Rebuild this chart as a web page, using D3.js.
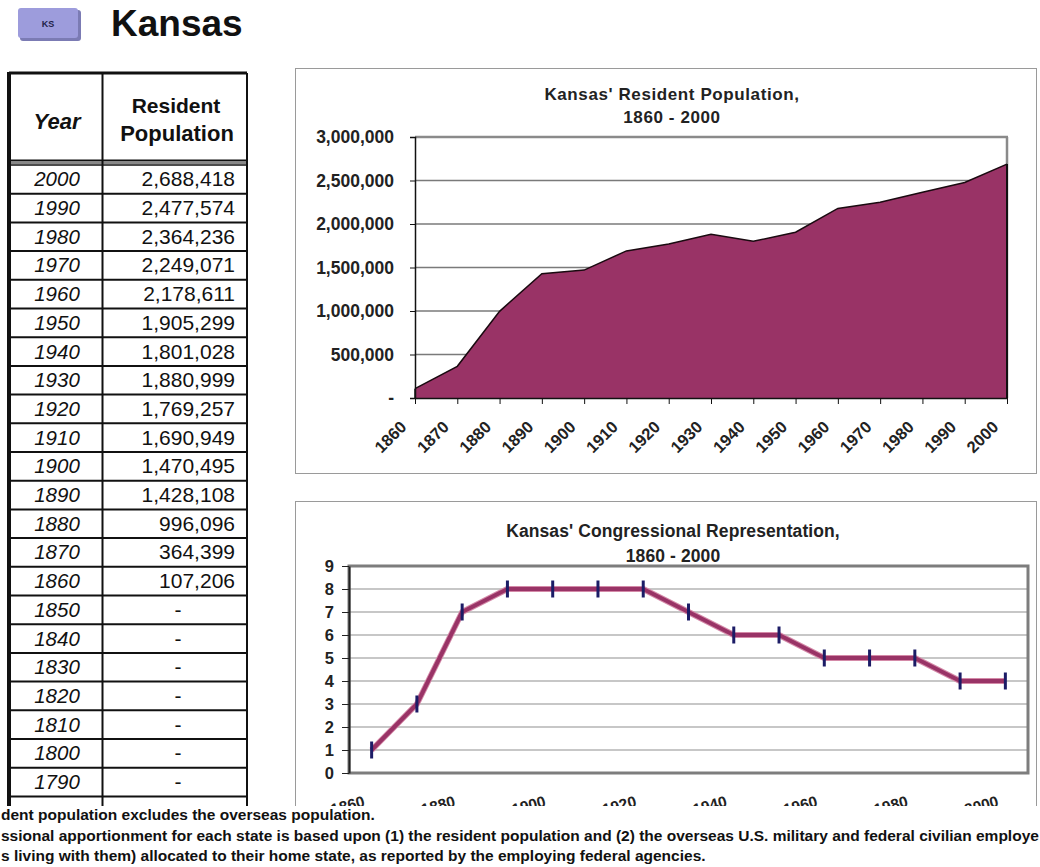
<!DOCTYPE html>
<html><head><meta charset="utf-8">
<script src="https://cdn.jsdelivr.net/npm/d3@7"></script>
<style>
body{margin:0;background:#fff}
svg{display:block;font-family:"Liberation Sans",Arial,sans-serif}
</style>
</head><body>
<svg id="c" width="1040" height="867"></svg>
<script>
// ---------- data ----------
const stateCode = "KS";
const stateName = "Kansas";
const tableYears = [2000,1990,1980,1970,1960,1950,1940,1930,1920,1910,1900,1890,1880,1870,1860,1850,1840,1830,1820,1810,1800,1790];
const tablePopulation = ["2,688,418","2,477,574","2,364,236","2,249,071","2,178,611","1,905,299","1,801,028","1,880,999","1,769,257","1,690,949","1,470,495","1,428,108","996,096","364,399","107,206","-","-","-","-","-","-","-"];
const chartYears = [1860,1870,1880,1890,1900,1910,1920,1930,1940,1950,1960,1970,1980,1990,2000];
const popValues = [107206,364399,996096,1428108,1470495,1690949,1769257,1880999,1801028,1905299,2178611,2249071,2364236,2477574,2688418];
const popTicks = [0,500000,1000000,1500000,2000000,2500000,3000000];
const popTickLabels = ["-","500,000","1,000,000","1,500,000","2,000,000","2,500,000","3,000,000"];
const seatValues = [1,3,7,8,8,8,8,7,6,6,5,5,5,4,4];
const seatTicks = [0,1,2,3,4,5,6,7,8,9];
const seatLabelYears = [1860,1880,1900,1920,1940,1960,1980,2000];
const popTitle = ["Kansas' Resident Population,","1860 - 2000"];
const seatTitle = ["Kansas' Congressional Representation,","1860 - 2000"];
const footnotes = [
  "dent population excludes the overseas population.",
  "ssional apportionment for each state is based upon (1) the resident population and (2) the overseas U.S. military and federal civilian employe",
  "s living with them) allocated to their home state, as reported by the employing federal agencies."
];

const svg = d3.select("#c");
svg.append("rect").attr("width",1040).attr("height",867).attr("fill","#fff");

// ---------- header ----------
svg.append("rect").attr("x",20).attr("y",10).attr("width",61).attr("height",31).attr("rx",3).attr("fill","#7b7bb4");
svg.append("rect").attr("x",18).attr("y",8).attr("width",60).attr("height",30).attr("rx",3).attr("fill","#9d9cdc");
svg.append("text").attr("x",48).attr("y",27).attr("text-anchor","middle").attr("font-size",9).attr("font-weight","bold").attr("fill","#22224a").text(stateCode);
svg.append("text").attr("x",111).attr("y",36).attr("font-size",37).attr("font-weight","bold").attr("fill","#111").text(stateName);

// ---------- table ----------
const T = {left:9, mid:102.5, right:247, top:73, headBottom:165};
const rowY = d3.scaleBand().domain(tableYears).range([T.headBottom, T.headBottom + 28.7*tableYears.length]);
const tbl = svg.append("g");
tbl.selectAll("line.row").data(tableYears).join("line")
  .attr("x1",T.left).attr("x2",T.right)
  .attr("y1",d=>rowY(d)+rowY.bandwidth()).attr("y2",d=>rowY(d)+rowY.bandwidth())
  .attr("stroke","#111").attr("stroke-width",2);
tbl.append("line").attr("x1",T.left).attr("x2",T.right).attr("y1",T.top).attr("y2",T.top).attr("stroke","#111").attr("stroke-width",3);
tbl.append("line").attr("x1",T.left).attr("x2",T.right).attr("y1",160.5).attr("y2",160.5).attr("stroke","#111").attr("stroke-width",2);
tbl.append("line").attr("x1",T.left).attr("x2",T.right).attr("y1",163).attr("y2",163).attr("stroke","#888").attr("stroke-width",2);
tbl.append("line").attr("x1",T.left).attr("x2",T.right).attr("y1",165).attr("y2",165).attr("stroke","#111").attr("stroke-width",1.5);
tbl.append("line").attr("x1",T.left).attr("x2",T.left).attr("y1",T.top-1).attr("y2",810).attr("stroke","#111").attr("stroke-width",4);
tbl.append("line").attr("x1",T.mid).attr("x2",T.mid).attr("y1",T.top).attr("y2",810).attr("stroke","#111").attr("stroke-width",2);
tbl.append("line").attr("x1",T.right).attr("x2",T.right).attr("y1",T.top).attr("y2",810).attr("stroke","#111").attr("stroke-width",2);
tbl.append("text").attr("x",57).attr("y",129).attr("text-anchor","middle").attr("font-size",22).attr("font-weight","bold").attr("font-style","italic").attr("fill","#111").text("Year");
tbl.append("text").attr("x",176).attr("y",113).attr("text-anchor","middle").attr("font-size",21).attr("font-weight","bold").attr("fill","#111").text("Resident");
tbl.append("text").attr("x",177).attr("y",141).attr("text-anchor","middle").attr("font-size",22).attr("font-weight","bold").attr("fill","#111").text("Population");
tbl.selectAll("text.yr").data(tableYears).join("text").attr("class","yr")
  .attr("x",57).attr("y",d=>rowY(d)+rowY.bandwidth()/2+7)
  .attr("text-anchor","middle").attr("font-size",20.5).attr("font-style","italic").attr("fill","#111").text(d=>d);
tbl.selectAll("text.pop").data(tablePopulation).join("text").attr("class","pop")
  .attr("x",d=>d==="-"?178:235).attr("y",(d,i)=>rowY(tableYears[i])+rowY.bandwidth()/2+7)
  .attr("text-anchor",d=>d==="-"?"middle":"end").attr("font-size",21).attr("fill","#111").text(d=>d);

// ---------- population area chart ----------
const g1 = svg.append("g");
g1.append("rect").attr("x",295.5).attr("y",68.5).attr("width",741).attr("height",405).attr("fill","#fff").attr("stroke","#9a9a9a");
g1.selectAll("text.t").data(popTitle).join("text").attr("class","t")
  .attr("x",672).attr("y",(d,i)=>100+i*23).attr("text-anchor","middle")
  .attr("font-size",17).attr("font-weight","bold").attr("letter-spacing",0.6).attr("fill","#222").text(d=>d);
const x1 = d3.scalePoint().domain(chartYears).range([415,1007]);
const y1 = d3.scaleLinear().domain([0,3000000]).range([398,137]);
g1.selectAll("line.grid").data(popTicks.slice(1,-1)).join("line")
  .attr("x1",415).attr("x2",1007).attr("y1",d=>y1(d)).attr("y2",d=>y1(d)).attr("stroke","#7a7a7a").attr("stroke-width",1.3);
g1.append("line").attr("x1",415).attr("x2",1008).attr("y1",y1(3000000)).attr("y2",y1(3000000)).attr("stroke","#8a8a8a").attr("stroke-width",2.5);
g1.append("line").attr("x1",1007).attr("x2",1007).attr("y1",y1(3000000)).attr("y2",398).attr("stroke","#8a8a8a").attr("stroke-width",2.5);
const area = d3.area().x((d,i)=>x1(chartYears[i])).y0(y1(0)).y1(d=>y1(d));
g1.append("path").datum(popValues).attr("d",area).attr("fill","#993366");
const topLine = d3.line().x((d,i)=>x1(chartYears[i])).y(d=>y1(d));
g1.append("path").datum(popValues).attr("d",topLine).attr("fill","none").attr("stroke","#1a0a10").attr("stroke-width",1.5);
g1.append("line").attr("x1",1007).attr("x2",1007).attr("y1",y1(popValues[popValues.length-1])).attr("y2",398).attr("stroke","#111").attr("stroke-width",2);
g1.append("line").attr("x1",415).attr("x2",415).attr("y1",y1(popValues[0])).attr("y2",398).attr("stroke","#111").attr("stroke-width",1.5);
const ax1 = d3.axisLeft(y1).tickValues(popTicks).tickFormat((d,i)=>popTickLabels[i]).tickSize(5).tickPadding(16);
const gy1 = g1.append("g").attr("transform","translate(415,0)").call(ax1);
gy1.select(".domain").attr("stroke","#111").attr("stroke-width",1.5);
gy1.selectAll(".tick line").attr("stroke","#111");
gy1.selectAll(".tick text").attr("font-size",17.5).attr("font-weight","bold").attr("fill","#222").attr("font-family","Liberation Sans, Arial, sans-serif");
const ax1b = d3.axisBottom(x1).tickSize(6).tickSizeOuter(0);
const gx1 = g1.append("g").attr("transform","translate(0,398)").call(ax1b);
gx1.select(".domain").attr("stroke","#111").attr("stroke-width",1.5);
gx1.selectAll(".tick line").attr("stroke","#111");
gx1.selectAll(".tick text").attr("font-size",16.5).attr("font-weight","bold").attr("fill","#222")
  .attr("font-family","Liberation Sans, Arial, sans-serif")
  .attr("text-anchor","end").attr("transform","translate(-12,26) rotate(-45)").attr("dy","0.35em").attr("y",0);

// ---------- congressional representation chart ----------
const g2 = svg.append("g");
g2.append("rect").attr("x",295.5).attr("y",501.5).attr("width",741).attr("height",400).attr("fill","#fff").attr("stroke","#9a9a9a");
g2.selectAll("text.t").data(seatTitle).join("text").attr("class","t")
  .attr("x",673).attr("y",(d,i)=>537+i*25).attr("text-anchor","middle")
  .attr("font-size",17.5).attr("font-weight","bold").attr("letter-spacing",0.1).attr("fill","#222").text(d=>d);
const x2 = d3.scalePoint().domain(chartYears).range([349,1028]).padding(0.5);
const y2 = d3.scaleLinear().domain([0,9]).range([773,566]);
g2.selectAll("line.grid").data(seatTicks.slice(1,-1)).join("line")
  .attr("x1",349).attr("x2",1028).attr("y1",d=>y2(d)).attr("y2",d=>y2(d)).attr("stroke","#8f8f8f").attr("stroke-width",1.2);
g2.append("rect").attr("x",349).attr("y",566).attr("width",679).attr("height",207).attr("fill","none").attr("stroke","#7d7d7d").attr("stroke-width",3);
const ax2 = d3.axisLeft(y2).tickValues(seatTicks).tickSize(7).tickPadding(8).tickSizeOuter(0);
const gy2 = g2.append("g").attr("transform","translate(349,0)").call(ax2);
gy2.select(".domain").attr("stroke","#222").attr("stroke-width",2);
gy2.selectAll(".tick line").attr("stroke","#222");
gy2.selectAll(".tick text").attr("font-size",16.5).attr("font-weight","bold").attr("fill","#222").attr("font-family","Liberation Sans, Arial, sans-serif");
const seatLine = d3.line().x((d,i)=>x2(chartYears[i])).y(d=>y2(d));
g2.append("path").datum(seatValues).attr("d",seatLine).attr("fill","none").attr("stroke","#d48aa8").attr("stroke-width",6).attr("stroke-linejoin","round");
g2.append("path").datum(seatValues).attr("d",seatLine).attr("fill","none").attr("stroke","#993366").attr("stroke-width",4).attr("stroke-linejoin","round");
g2.selectAll("line.mk").data(seatValues).join("line")
  .attr("x1",(d,i)=>x2(chartYears[i])).attr("x2",(d,i)=>x2(chartYears[i]))
  .attr("y1",d=>y2(d)-8.5).attr("y2",d=>y2(d)+8.5).attr("stroke","#1c1c66").attr("stroke-width",3);
g2.selectAll("text.xl").data(seatLabelYears).join("text").attr("class","xl")
  .attr("transform",d=>`translate(${x2(d)-6},${806}) rotate(-15)`)
  .attr("text-anchor","end")
  .attr("font-size",15.5).attr("font-weight","bold").attr("fill","#222").text(d=>d);

// ---------- footnotes (overlay) ----------
svg.append("rect").attr("x",0).attr("y",806).attr("width",1040).attr("height",61).attr("fill","#fff");
svg.selectAll("text.fn").data(footnotes).join("text").attr("class","fn")
  .attr("x",1).attr("y",(d,i)=>820+i*20.5)
  .attr("font-size",15.5).attr("font-weight","bold").attr("fill","#111").text(d=>d);
</script>
</body></html>
